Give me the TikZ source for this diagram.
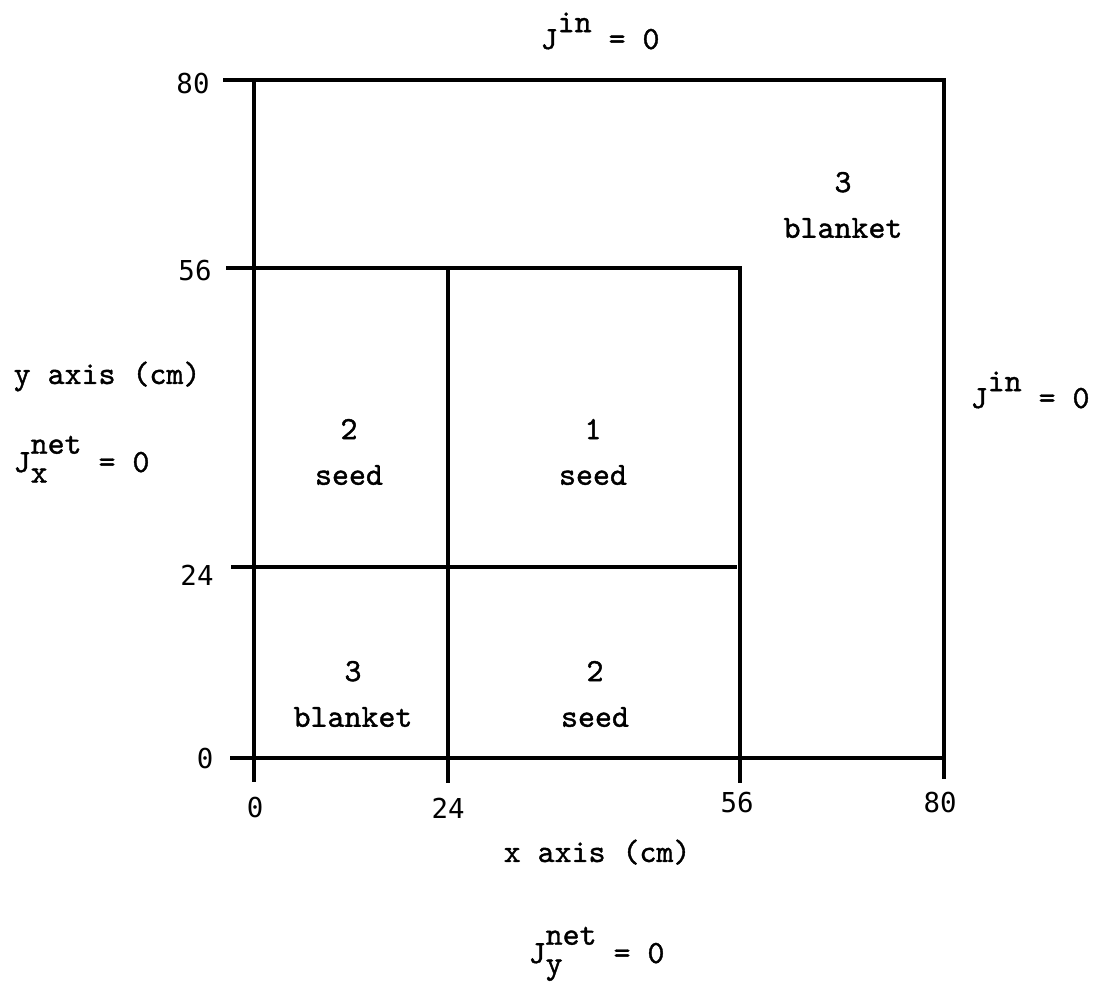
\documentclass[tikz,border=0pt]{standalone}
\usepackage{fontspec}
\usepackage{tikz}
\newfontfamily\typewr[Extension=.otf, FakeBold=1.2]{lmmono10-regular}
\newfontfamily\numfont{DejaVu Sans Mono}

\tikzset{
  wall/.style={line width=0.9pt},
  region/.style={font=\typewr\fontsize{9.2}{13}\selectfont, align=center, inner sep=0pt},
  ticklab/.style={font=\numfont\fontsize{7.8}{9}\selectfont, inner sep=0pt},
  bclab/.style={font=\typewr\fontsize{9.2}{10}\selectfont, inner sep=0pt, anchor=base west}
}
\newcommand{\Jin}{J\raisebox{4.8pt}{in} = 0}
\newcommand{\Jnet}[1]{J\rlap{\raisebox{5.2pt}{net}}\raisebox{-3pt}{#1}\phantom{et} = 0}

\begin{document}
\begin{tikzpicture}
\useasboundingbox (0,0) rectangle (10.94,9.85);

% Outer boundary (0..80)
\draw[wall] (2.23,9.05) -- (9.44,9.05) -- (9.44,2.06);
\draw[wall] (2.54,9.05) -- (2.54,2.03);
\draw[wall] (2.30,2.27) -- (9.45,2.27);

% Inner core (0..56)
\draw[wall] (2.26,7.17) -- (7.40,7.17) -- (7.40,2.02);
\draw[wall] (2.31,4.18) -- (7.37,4.18);
\draw[wall] (4.48,7.17) -- (4.48,2.02);

% Tick labels
\node[ticklab] (y80) at (1.93,9.01) {80};
\node[ticklab] (y56) at (1.95,7.14) {56};
\node[ticklab] (y24) at (1.97,4.10) {24};
\node[ticklab] (y0)  at (2.05,2.26) {0};
\node[ticklab] (x0)  at (2.55,1.77) {0};
\node[ticklab] (x24) at (4.48,1.77) {24};
\node[ticklab] (x56) at (7.37,1.82) {56};
\node[ticklab] (x80) at (9.40,1.82) {80};

% Regions
\node[region] (seedul)  at (3.49,5.33) {2\\seed};
\node[region] (seedur)  at (5.93,5.33) {1\\seed};
\node[region] (blankll) at (3.53,2.91) {3\\blanket};
\node[region] (seedlr)  at (5.95,2.91) {2\\seed};
\node[region] (blankur) at (8.43,7.80) {3\\blanket};

% Axis names and boundary conditions
\node[bclab] (yaxis)   at (0.13,6.01) {y axis (cm)};
\node[bclab] (xaxis)   at (5.03,1.23) {x axis (cm)};
\node[bclab] (bctop)   at (5.40,9.36) {\Jin};
\node[bclab] (bcright) at (9.70,5.77) {\Jin};
\node[bclab] (bcleft)  at (0.13,5.13) {\Jnet{x}};
\node[bclab] (bcbot)   at (5.28,0.22) {\Jnet{y}};

\end{tikzpicture}
\end{document}
